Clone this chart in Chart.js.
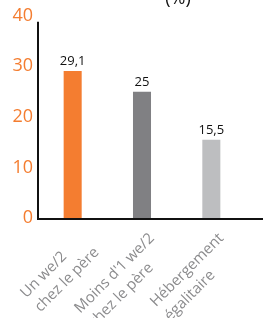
<!DOCTYPE html>
<html>
<head>
<meta charset="utf-8">
<script src="https://cdn.jsdelivr.net/npm/chart.js@4"></script>
<style>
  html, body { margin: 0; padding: 0; background: #fff; }
  #wrap { width: 263px; height: 318px; position: relative; }
</style>
</head>
<body>
<div id="wrap"><canvas id="chart"></canvas></div>
<script>
const categories = [['Un we/2', 'chez le père'], ['Moins d\'1 we/2', 'chez le père'], ['Hébergement', 'égalitaire']];
const values = [29.1, 25, 15.5];
const valueLabels = ['29,1', '25', '15,5'];
const barColors = ['#F47D30', '#808083', '#BDBEC0'];
const yTicks = [0, 10, 20, 30, 40];

// axis lines, cut title, value labels and the slanted category labels
const extras = {
  id: 'extras',
  afterDatasetsDraw(chart) {
    const ctx = chart.ctx;
    const area = chart.chartArea;
    const y = chart.scales.y;
    ctx.save();
    ctx.strokeStyle = '#111';
    ctx.lineWidth = 2;
    ctx.beginPath();
    ctx.moveTo(area.left, y.getPixelForValue(38.8));
    ctx.lineTo(area.left, area.bottom + 1);
    ctx.lineTo(chart.width, area.bottom + 1);
    ctx.stroke();

    ctx.fillStyle = '#111';
    ctx.font = '13px "Open Sans"';
    ctx.textAlign = 'center';
    ctx.textBaseline = 'bottom';
    const bars = chart.getDatasetMeta(0).data;
    bars.forEach((bar, i) => {
      ctx.fillText(valueLabels[i], bar.x, bar.y - 3);
    });

    ctx.font = '18px "Open Sans"';
    ctx.textBaseline = 'alphabetic';
    ctx.fillText('(%)', 178, 4);

    // category labels: left aligned lines, rotated -45deg,
    // longest line ends just right of the bar centre
    ctx.font = '15px "Open Sans"';
    ctx.fillStyle = '#8B8B8D';
    ctx.textAlign = 'left';
    ctx.textBaseline = 'middle';
    bars.forEach((bar, i) => {
      const lines = categories[i];
      const longest = Math.max(...lines.map(t => ctx.measureText(t).width));
      ctx.save();
      ctx.translate(bar.x + 10, area.bottom + 18);
      ctx.rotate(-Math.PI / 4);
      lines.forEach((t, k) => {
        ctx.fillText(t, -longest, k * 20);
      });
      ctx.restore();
    });
    ctx.restore();
  }
};

new Chart(document.getElementById('chart'), {
  type: 'bar',
  data: {
    labels: categories,
    datasets: [{
      data: values,
      backgroundColor: barColors,
      barPercentage: 0.5,
      categoryPercentage: 0.52
    }]
  },
  options: {
    responsive: true,
    maintainAspectRatio: false,
    animation: false,
    layout: { padding: { top: 4, right: 17, left: 0, bottom: 0 } },
    plugins: { legend: { display: false }, tooltip: { enabled: false } },
    scales: {
      y: {
        min: 0,
        max: 40,
        afterBuildTicks: s => { s.ticks = yTicks.map(v => ({ value: v })); },
        afterFit: s => { s.width = 38; },
        grid: { display: false, drawTicks: false },
        border: { display: false },
        ticks: { color: '#F47D30', font: { family: 'Open Sans', size: 18 }, padding: 5 }
      },
      x: {
        afterFit: s => { s.height = 100; },
        grid: { display: false, drawTicks: false },
        border: { display: false },
        ticks: { display: false }
      }
    }
  },
  plugins: [extras]
});
</script>
</body>
</html>
